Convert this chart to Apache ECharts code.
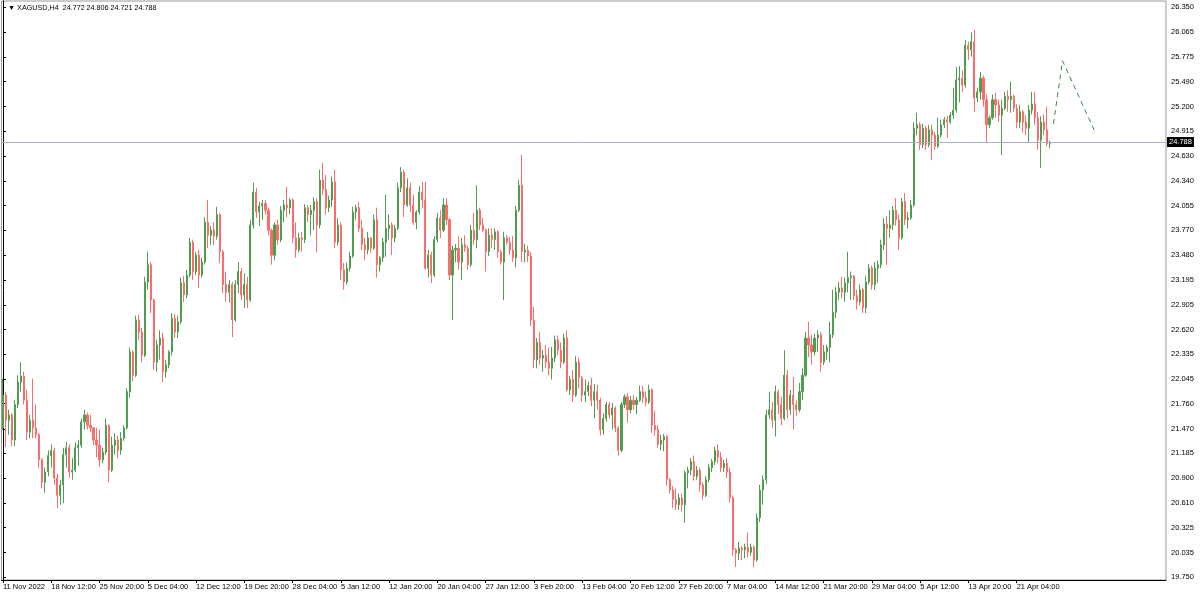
<!DOCTYPE html>
<html><head><meta charset="utf-8">
<script src="https://cdn.jsdelivr.net/npm/echarts@6/dist/echarts.min.js"></script>
<style>html,body{margin:0;padding:0;background:#fff}#c{width:1200px;height:597px}</style>
</head><body><div id="c"></div>
<script>
const titleText = '\u25BC XAGUSD,H4  24.772 24.806 24.721 24.788';
const tickLabels = ['11 Nov 2022','18 Nov 12:00','25 Nov 20:00','5 Dec 04:00','12 Dec 12:00','19 Dec 20:00','28 Dec 04:00','5 Jan 12:00','12 Jan 20:00','20 Jan 04:00','27 Jan 12:00','3 Feb 20:00','13 Feb 04:00','20 Feb 12:00','27 Feb 20:00','7 Mar 04:00','14 Mar 12:00','21 Mar 20:00','29 Mar 04:00','5 Apr 12:00','13 Apr 20:00','21 Apr 04:00'];
const priceTicks = [19.750,20.035,20.325,20.610,20.900,21.185,21.470,21.760,22.045,22.335,22.620,22.905,23.195,23.480,23.770,24.055,24.340,24.630,24.915,25.200,25.490,25.775,26.065,26.350];
const lastPrice = 24.788;

const opens = [
21.48,21.86,21.57,21.63,21.34,21.75,22.01,22.08,21.80,21.43,
21.57,21.48,21.40,21.11,20.85,20.97,21.16,21.22,20.90,20.70,
20.82,21.17,21.25,20.97,20.99,21.25,21.28,21.55,21.63,21.51,
21.48,21.34,21.28,21.11,21.20,21.51,20.99,21.28,21.34,21.22,
21.36,21.48,21.90,22.36,22.09,22.73,22.59,22.32,23.17,23.37,
22.96,22.24,22.44,22.52,22.13,22.21,22.36,22.75,22.59,22.71,
23.16,23.02,23.25,23.63,23.29,23.48,23.25,23.40,23.86,23.71,
23.77,23.70,23.95,23.52,23.14,23.05,23.14,22.73,23.14,23.29,
23.02,23.14,22.96,23.83,24.21,23.98,24.05,24.08,24.00,23.77,
23.48,23.83,23.66,24.00,24.06,24.03,24.12,23.68,23.54,23.68,
23.66,24.03,23.95,24.00,24.10,23.83,24.35,24.24,24.03,24.12,
24.33,23.63,23.83,23.31,23.17,23.33,23.47,23.98,24.03,23.79,
23.60,23.54,23.68,23.56,23.89,23.37,23.45,23.63,23.79,23.83,
23.68,23.79,24.26,24.44,24.06,24.26,24.06,23.86,23.98,24.21,
24.12,23.33,23.48,23.25,23.66,23.91,23.77,24.06,23.89,23.25,
23.54,23.56,23.40,23.60,23.56,23.37,23.77,23.66,24.00,23.83,
23.77,23.52,23.71,23.66,23.75,23.52,23.40,23.68,23.63,23.54,
23.45,24.00,24.29,23.52,23.54,23.47,22.73,22.27,22.47,22.29,
22.32,22.24,22.17,22.29,22.50,22.38,22.24,22.52,21.92,22.04,
21.86,22.24,22.06,21.86,21.90,21.97,21.80,21.90,21.80,21.46,
21.59,21.75,21.63,21.71,21.48,21.22,21.75,21.84,21.69,21.80,
21.75,21.80,21.90,21.83,21.78,21.92,21.51,21.46,21.29,21.34,
21.38,20.88,20.76,20.65,20.59,20.67,20.59,20.96,20.99,21.09,
20.92,20.99,20.82,20.70,20.88,21.02,21.09,21.22,21.14,21.02,
21.07,20.97,20.67,20.07,20.03,20.09,20.07,20.10,20.04,20.10,
19.95,20.44,20.76,20.88,21.63,21.69,21.57,21.90,21.75,21.59,
22.09,21.69,21.86,21.75,21.69,21.90,22.09,22.52,22.44,22.36,
22.52,22.56,22.24,22.36,22.41,22.56,22.82,23.05,23.10,23.05,
23.16,23.22,23.24,23.01,22.94,23.08,22.87,23.17,23.33,23.14,
23.33,23.37,23.60,23.84,23.79,23.83,24.00,23.89,23.68,24.10,
23.89,23.91,24.06,24.95,24.99,24.76,24.95,24.76,24.93,24.87,
24.74,24.87,24.99,25.05,25.02,25.10,25.16,25.51,25.53,25.45,
25.91,25.86,25.95,25.30,25.37,25.53,25.28,24.99,25.07,25.28,
25.22,25.10,25.18,25.32,25.28,25.32,25.18,25.02,25.14,25.02,
24.95,25.16,25.23,25.07,24.81,25.02,24.93,24.772];

const closes = [
21.86,21.57,21.63,21.34,21.75,22.01,22.08,21.80,21.43,21.57,
21.48,21.40,21.11,20.85,20.97,21.16,21.22,20.90,20.70,20.82,
21.17,21.25,20.97,20.99,21.25,21.28,21.55,21.63,21.51,21.48,
21.34,21.28,21.11,21.20,21.51,20.99,21.28,21.34,21.22,21.36,
21.48,21.90,22.36,22.09,22.73,22.59,22.32,23.17,23.37,22.96,
22.24,22.44,22.52,22.13,22.21,22.36,22.75,22.59,22.71,23.16,
23.02,23.25,23.63,23.29,23.48,23.25,23.40,23.86,23.71,23.77,
23.70,23.95,23.52,23.14,23.05,23.14,22.73,23.14,23.29,23.02,
23.14,22.96,23.83,24.21,23.98,24.05,24.08,24.00,23.77,23.48,
23.83,23.66,24.00,24.06,24.03,24.12,23.68,23.54,23.68,23.66,
24.03,23.95,24.00,24.10,23.83,24.35,24.24,24.03,24.12,24.33,
23.63,23.83,23.31,23.17,23.33,23.47,23.98,24.03,23.79,23.60,
23.54,23.68,23.56,23.89,23.37,23.45,23.63,23.79,23.83,23.68,
23.79,24.26,24.44,24.06,24.26,24.06,23.86,23.98,24.21,24.12,
23.33,23.48,23.25,23.66,23.91,23.77,24.06,23.89,23.25,23.54,
23.56,23.40,23.60,23.56,23.37,23.77,23.66,24.00,23.83,23.77,
23.52,23.71,23.66,23.75,23.52,23.40,23.68,23.63,23.54,23.45,
24.00,24.29,23.52,23.54,23.47,22.73,22.27,22.47,22.29,22.32,
22.24,22.17,22.29,22.50,22.38,22.24,22.52,21.92,22.04,21.86,
22.24,22.06,21.86,21.90,21.97,21.80,21.90,21.80,21.46,21.59,
21.75,21.63,21.71,21.48,21.22,21.75,21.84,21.69,21.80,21.75,
21.80,21.90,21.83,21.78,21.92,21.51,21.46,21.29,21.34,21.38,
20.88,20.76,20.65,20.59,20.67,20.59,20.96,20.99,21.09,20.92,
20.99,20.82,20.70,20.88,21.02,21.09,21.22,21.14,21.02,21.07,
20.97,20.67,20.07,20.03,20.09,20.07,20.10,20.04,20.10,19.95,
20.44,20.76,20.88,21.63,21.69,21.57,21.90,21.75,21.59,22.09,
21.69,21.86,21.75,21.69,21.90,22.09,22.52,22.44,22.36,22.52,
22.56,22.24,22.36,22.41,22.56,22.82,23.05,23.10,23.05,23.16,
23.22,23.24,23.01,22.94,23.08,22.87,23.17,23.33,23.14,23.33,
23.37,23.60,23.84,23.79,23.83,24.00,23.89,23.68,24.10,23.89,
23.91,24.06,24.95,24.99,24.76,24.95,24.76,24.93,24.87,24.74,
24.87,24.99,25.05,25.02,25.10,25.16,25.51,25.53,25.45,25.91,
25.86,25.95,25.30,25.37,25.53,25.28,24.99,25.07,25.28,25.22,
25.10,25.18,25.32,25.28,25.32,25.18,25.02,25.14,25.02,24.95,
25.16,25.23,25.07,24.81,25.02,24.93,24.77,24.788];

const lows = [
21.46,21.26,21.40,21.27,21.27,21.71,21.90,21.75,21.34,21.36,
21.36,21.36,21.02,20.78,20.73,20.92,21.02,20.82,20.55,20.59,
20.61,21.02,20.90,20.88,20.97,21.04,21.25,21.46,21.46,21.43,
21.28,21.14,21.03,21.07,21.17,20.85,20.97,21.17,21.13,21.17,
21.33,21.46,21.83,22.02,22.07,22.50,22.24,22.30,23.08,22.81,
22.15,22.13,22.27,22.01,22.06,22.17,22.32,22.52,22.52,22.68,
22.94,22.98,23.22,23.19,23.25,23.10,23.22,23.37,23.56,23.60,
23.60,23.66,23.39,23.04,22.94,22.93,22.53,22.71,23.04,22.96,
22.87,22.87,22.94,23.79,23.91,23.82,23.89,23.95,23.71,23.37,
23.42,23.60,23.63,23.86,23.92,23.95,23.62,23.45,23.51,23.52,
23.62,23.86,23.71,23.77,23.51,23.79,24.18,23.95,23.98,24.04,
23.56,23.59,23.19,23.08,23.14,23.29,23.45,23.89,23.75,23.54,
23.42,23.49,23.51,23.54,23.22,23.29,23.40,23.46,23.66,23.48,
23.63,23.77,24.21,23.92,24.04,23.98,23.83,23.78,23.95,24.03,
23.31,23.22,23.16,23.23,23.63,23.68,23.75,23.83,23.19,22.73,
23.40,23.31,23.19,23.52,23.31,23.34,23.60,23.56,23.77,23.75,
23.29,23.47,23.56,23.54,23.45,23.37,22.96,23.60,23.48,23.40,
23.34,23.98,23.40,23.40,23.40,22.66,22.17,22.17,22.21,22.13,
22.17,22.09,22.04,22.24,22.32,22.17,22.22,21.90,21.86,21.78,
21.84,21.94,21.78,21.78,21.85,21.73,21.59,21.69,21.39,21.40,
21.55,21.59,21.46,21.43,21.16,21.20,21.71,21.54,21.65,21.69,
21.64,21.78,21.77,21.73,21.76,21.42,21.39,21.25,21.22,21.21,
20.81,20.72,20.55,20.53,20.53,20.51,20.38,20.78,20.93,20.87,
20.88,20.74,20.65,20.68,20.85,20.97,21.05,21.07,20.97,20.97,
20.90,20.62,20.00,19.87,19.95,19.95,19.97,19.98,20.00,19.87,
19.93,20.39,20.59,20.83,21.59,21.48,21.38,21.64,21.51,21.57,
21.59,21.63,21.46,21.62,21.66,21.80,22.07,22.30,22.21,22.32,
22.36,22.13,22.21,22.27,22.24,22.52,22.75,22.96,22.98,22.94,
23.05,22.96,22.96,22.85,22.90,22.81,22.81,23.14,23.08,23.08,
23.16,23.33,23.54,23.37,23.68,23.77,23.82,23.54,23.66,23.83,
23.79,23.89,24.04,24.87,24.70,24.72,24.70,24.73,24.58,24.70,
24.72,24.84,24.95,24.84,25.00,25.06,25.13,25.25,25.37,25.42,
25.74,25.78,25.14,25.25,25.28,25.20,24.79,24.95,25.05,25.07,
25.02,24.64,25.16,25.14,25.13,25.14,24.95,24.95,24.90,24.87,
24.79,25.11,24.99,24.70,24.49,24.87,24.74,24.721];

const highs = [
22.05,21.90,21.69,21.65,21.80,22.09,22.24,22.13,21.92,21.63,
22.05,21.75,21.42,21.13,21.02,21.22,21.29,21.25,20.95,20.88,
21.25,21.32,21.29,21.13,21.31,21.34,21.59,21.69,21.66,21.63,
21.49,21.48,21.46,21.25,21.59,21.52,21.38,21.42,21.39,21.43,
21.51,21.94,22.41,22.38,22.78,22.79,22.64,23.23,23.52,23.40,
22.98,22.50,22.61,22.58,22.27,22.38,22.81,22.80,22.78,23.22,
23.24,23.31,23.68,23.66,23.52,23.54,23.45,23.92,24.12,23.82,
23.86,24.04,23.97,23.54,23.29,23.19,23.17,23.19,23.40,23.33,
23.27,23.23,23.89,24.32,24.26,24.10,24.12,24.12,24.03,23.79,
23.86,23.89,24.05,24.12,24.27,24.14,24.14,23.86,23.74,23.75,
24.07,24.06,24.06,24.15,24.14,24.47,24.55,24.41,24.17,24.39,
24.47,23.91,23.86,23.39,23.39,23.52,24.04,24.06,24.10,23.89,
23.68,23.75,23.69,23.95,24.03,23.47,23.68,24.18,23.95,23.86,
23.83,24.32,24.50,24.47,24.37,24.32,24.18,24.00,24.28,24.33,
24.33,23.54,23.52,23.70,23.97,24.00,24.14,24.14,23.91,23.59,
23.61,23.70,23.68,23.71,23.59,23.83,23.97,24.29,24.03,23.91,
23.79,23.79,23.79,23.79,23.77,23.54,23.75,23.71,23.69,23.70,
24.05,24.35,24.64,23.61,23.59,23.52,22.88,22.52,22.59,22.38,
22.44,22.41,22.42,22.55,22.55,22.47,22.57,22.61,22.08,22.15,
22.31,22.29,22.08,22.04,22.02,22.06,21.99,21.98,21.83,21.65,
21.78,21.78,21.77,21.73,21.50,21.78,21.87,21.88,21.85,21.86,
21.84,21.97,21.97,21.90,21.98,21.94,21.68,21.51,21.40,21.41,
21.40,20.90,20.81,20.78,20.72,20.72,20.99,21.03,21.13,21.16,
21.04,21.02,20.85,20.92,21.06,21.12,21.26,21.29,21.20,21.11,
21.13,21.02,20.70,20.09,20.16,20.11,20.14,20.27,20.14,20.12,
20.49,20.82,20.93,21.69,21.90,21.78,21.97,21.92,21.84,22.38,
22.15,21.92,22.07,21.80,22.00,22.17,22.59,22.71,22.56,22.57,
22.61,22.59,22.44,22.44,22.71,23.08,23.11,23.17,23.23,23.22,
23.52,23.29,23.25,23.08,23.14,23.10,23.24,23.38,23.36,23.40,
23.42,23.66,23.91,23.93,24.00,24.05,24.14,23.95,24.14,24.20,
23.98,24.12,25.02,25.13,25.02,25.00,24.98,24.99,24.99,24.91,
25.07,25.05,25.08,25.09,25.14,25.42,25.66,25.67,25.62,25.97,
25.95,26.06,26.09,25.42,25.60,25.56,25.34,25.10,25.34,25.36,
25.28,25.28,25.37,25.39,25.49,25.34,25.23,25.22,25.16,25.10,
25.22,25.37,25.37,25.14,25.09,25.11,25.20,24.806];

const forecastX = [348.2, 351.2, 362.2];
const forecastY = [25.00, 25.73, 24.89];

const SLOTS = 386;
const LABEL_EVERY = 16;
const FONT = 'Liberation Sans, Arial, DejaVu Sans, sans-serif';
const BULL = '#4f9d4f';
const BEAR = '#ff6a6a';

const cats = Array.from({length: SLOTS}, (_, i) => String(i));
const candleData = opens.map((o, i) => [o, closes[i], lows[i], highs[i]]);
const showTick = (idx) => idx % LABEL_EVERY === 0 && idx / LABEL_EVERY < tickLabels.length;

const chart = echarts.init(document.getElementById('c'), null, {renderer: 'canvas'});
chart.setOption({
  animation: false,
  backgroundColor: '#ffffff',
  title: {
    text: titleText, left: 3, top: 0,
    textStyle: {fontSize: 7.2, fontWeight: 'normal', fontFamily: FONT, color: '#000'}
  },
  grid: {left: 1, right: 34, top: 1, bottom: 17, show: true, borderColor: '#9a9a9a', borderWidth: 1, backgroundColor: '#fff'},
  xAxis: [{
    type: 'category', data: cats, boundaryGap: true,
    axisLine: {show: true, lineStyle: {color: '#000', width: 1}},
    axisTick: {show: true, alignWithLabel: true, interval: showTick, length: 3, lineStyle: {color: '#000'}},
    axisLabel: {
      interval: showTick, align: 'left', margin: 3,
      fontSize: 7.5, fontFamily: FONT, color: '#000',
      formatter: (v, idx) => tickLabels[Math.round(idx / LABEL_EVERY)] || ''
    },
    splitLine: {show: false}
  }, {
    type: 'value', min: -0.5, max: SLOTS - 0.5, show: false
  }],
  yAxis: {
    type: 'value', position: 'right', min: 19.719, max: 26.423,
    splitLine: {show: false},
    axisLine: {show: true, lineStyle: {color: '#000', width: 1}},
    axisTick: {show: true, customValues: priceTicks, length: 3, inside: false, lineStyle: {color: '#000'}},
    axisLabel: {customValues: priceTicks, formatter: (v) => v.toFixed(3), margin: 5, fontSize: 7.5, fontFamily: FONT, color: '#000'}
  },
  series: [{
    type: 'candlestick', xAxisIndex: 0, yAxisIndex: 0,
    data: candleData, barWidth: 1.6,
    itemStyle: {color: BULL, color0: BEAR, borderColor: BULL, borderColor0: BEAR, borderWidth: 1},
    markLine: {
      silent: true, symbol: 'none', animation: false,
      data: [{yAxis: lastPrice}],
      lineStyle: {color: '#a7b1c0', width: 1, type: 'solid'},
      label: {position: 'end', distance: 1, formatter: lastPrice.toFixed(3), backgroundColor: '#000', color: '#fff', padding: [1, 2, 1, 2], fontSize: 7.5, fontFamily: FONT}
    }
  }, {
    type: 'line', xAxisIndex: 1, yAxisIndex: 0,
    data: forecastX.map((x, i) => [x, forecastY[i]]),
    symbol: 'none', silent: true,
    lineStyle: {color: '#3a8a3a', width: 1, type: [5, 4]}
  }]
});
</script>
</body></html>
